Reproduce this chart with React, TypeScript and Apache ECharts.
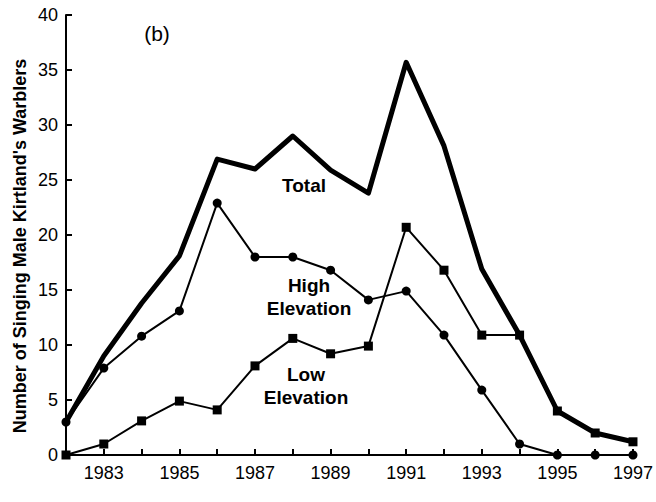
import React, { useEffect, useRef } from "react";
import * as echarts from "echarts";

const years = [1982, 1983, 1984, 1985, 1986, 1987, 1988, 1989, 1990, 1991, 1992, 1993, 1994, 1995, 1996, 1997];
const totalValues = [3, 9, 13.8, 18.1, 26.9, 26.0, 29.0, 25.9, 23.8, 35.7, 28.1, 16.9, 10.9, 4.0, 2.0, 1.2];
const highValues = [3, 7.9, 10.8, 13.1, 22.9, 18.0, 18.0, 16.8, 14.1, 14.9, 10.9, 5.9, 1.0, 0, 0, 0];
const lowValues = [0, 1.0, 3.1, 4.9, 4.1, 8.1, 10.6, 9.2, 9.9, 20.7, 16.8, 10.9, 10.9, 4.0, 2.0, 1.2];
const yTicks = [0, 5, 10, 15, 20, 25, 30, 35, 40];

const FONT = "'Liberation Sans', Arial, Helvetica, sans-serif";

export default function App() {
  const ref = useRef<HTMLDivElement>(null);
  useEffect(() => {
    if (!ref.current) return;
    const chart = echarts.init(ref.current, undefined, { renderer: "svg" });
    const pair = (arr: number[]) => years.map((y, i) => [y, arr[i]]);
    chart.setOption({
      animation: false,
      backgroundColor: "#ffffff",
      grid: { left: 66, right: 20, top: 15, bottom: 47 },
      xAxis: {
        type: "value",
        min: 1982,
        max: 1997,
        interval: 1,
        axisLine: { lineStyle: { color: "#000", width: 2 } },
        axisTick: { inside: true, length: 6, lineStyle: { color: "#000", width: 2 } },
        splitLine: { show: false },
        axisLabel: {
          color: "#000",
          fontSize: 18,
          fontFamily: FONT,
          margin: 9,
          formatter: (v: number) => (v % 2 === 1 ? String(v) : ""),
        },
      },
      yAxis: {
        type: "value",
        min: yTicks[0],
        max: yTicks[yTicks.length - 1],
        interval: 5,
        axisLine: { show: true, lineStyle: { color: "#000", width: 2 } },
        axisTick: { show: true, inside: true, length: 6, lineStyle: { color: "#000", width: 2 } },
        splitLine: { show: false },
        axisLabel: { color: "#000", fontSize: 18, fontFamily: FONT, margin: 8 },
      },
      graphic: [
        {
          type: "text",
          x: 20,
          y: 246,
          rotation: Math.PI / 2,
          style: {
            text: "Number of Singing Male Kirtland's Warblers",
            font: `bold 18px ${FONT}`,
            fill: "#000",
            textAlign: "center",
            textVerticalAlign: "middle",
          },
        },
        {
          type: "text",
          x: 157,
          y: 33,
          style: { text: "(b)", font: `21px ${FONT}`, fill: "#000", textAlign: "center", textVerticalAlign: "middle" },
        },
        {
          type: "text",
          x: 304,
          y: 185,
          style: { text: "Total", font: `bold 19px ${FONT}`, fill: "#000", textAlign: "center", textVerticalAlign: "middle" },
        },
        {
          type: "text",
          x: 309,
          y: 297,
          style: {
            text: "High\nElevation",
            font: `bold 19px ${FONT}`,
            lineHeight: 23,
            fill: "#000",
            textAlign: "center",
            textVerticalAlign: "middle",
          },
        },
        {
          type: "text",
          x: 306,
          y: 386,
          style: {
            text: "Low\nElevation",
            font: `bold 19px ${FONT}`,
            lineHeight: 23,
            fill: "#000",
            textAlign: "center",
            textVerticalAlign: "middle",
          },
        },
      ],
      series: [
        {
          name: "Total",
          type: "line",
          data: pair(totalValues),
          symbol: "none",
          lineStyle: { color: "#000", width: 5, join: "round" },
          z: 2,
        },
        {
          name: "High Elevation",
          type: "line",
          data: pair(highValues),
          symbol: "circle",
          symbolSize: 9,
          itemStyle: { color: "#000" },
          lineStyle: { color: "#000", width: 2 },
          z: 3,
        },
        {
          name: "Low Elevation",
          type: "line",
          data: pair(lowValues),
          symbol: "rect",
          symbolSize: 9,
          itemStyle: { color: "#000" },
          lineStyle: { color: "#000", width: 2 },
          z: 3,
        },
      ],
    });
    return () => chart.dispose();
  }, []);
  return <div ref={ref} style={{ width: 656, height: 502, position: "fixed", left: 0, top: 0 }} />;
}
